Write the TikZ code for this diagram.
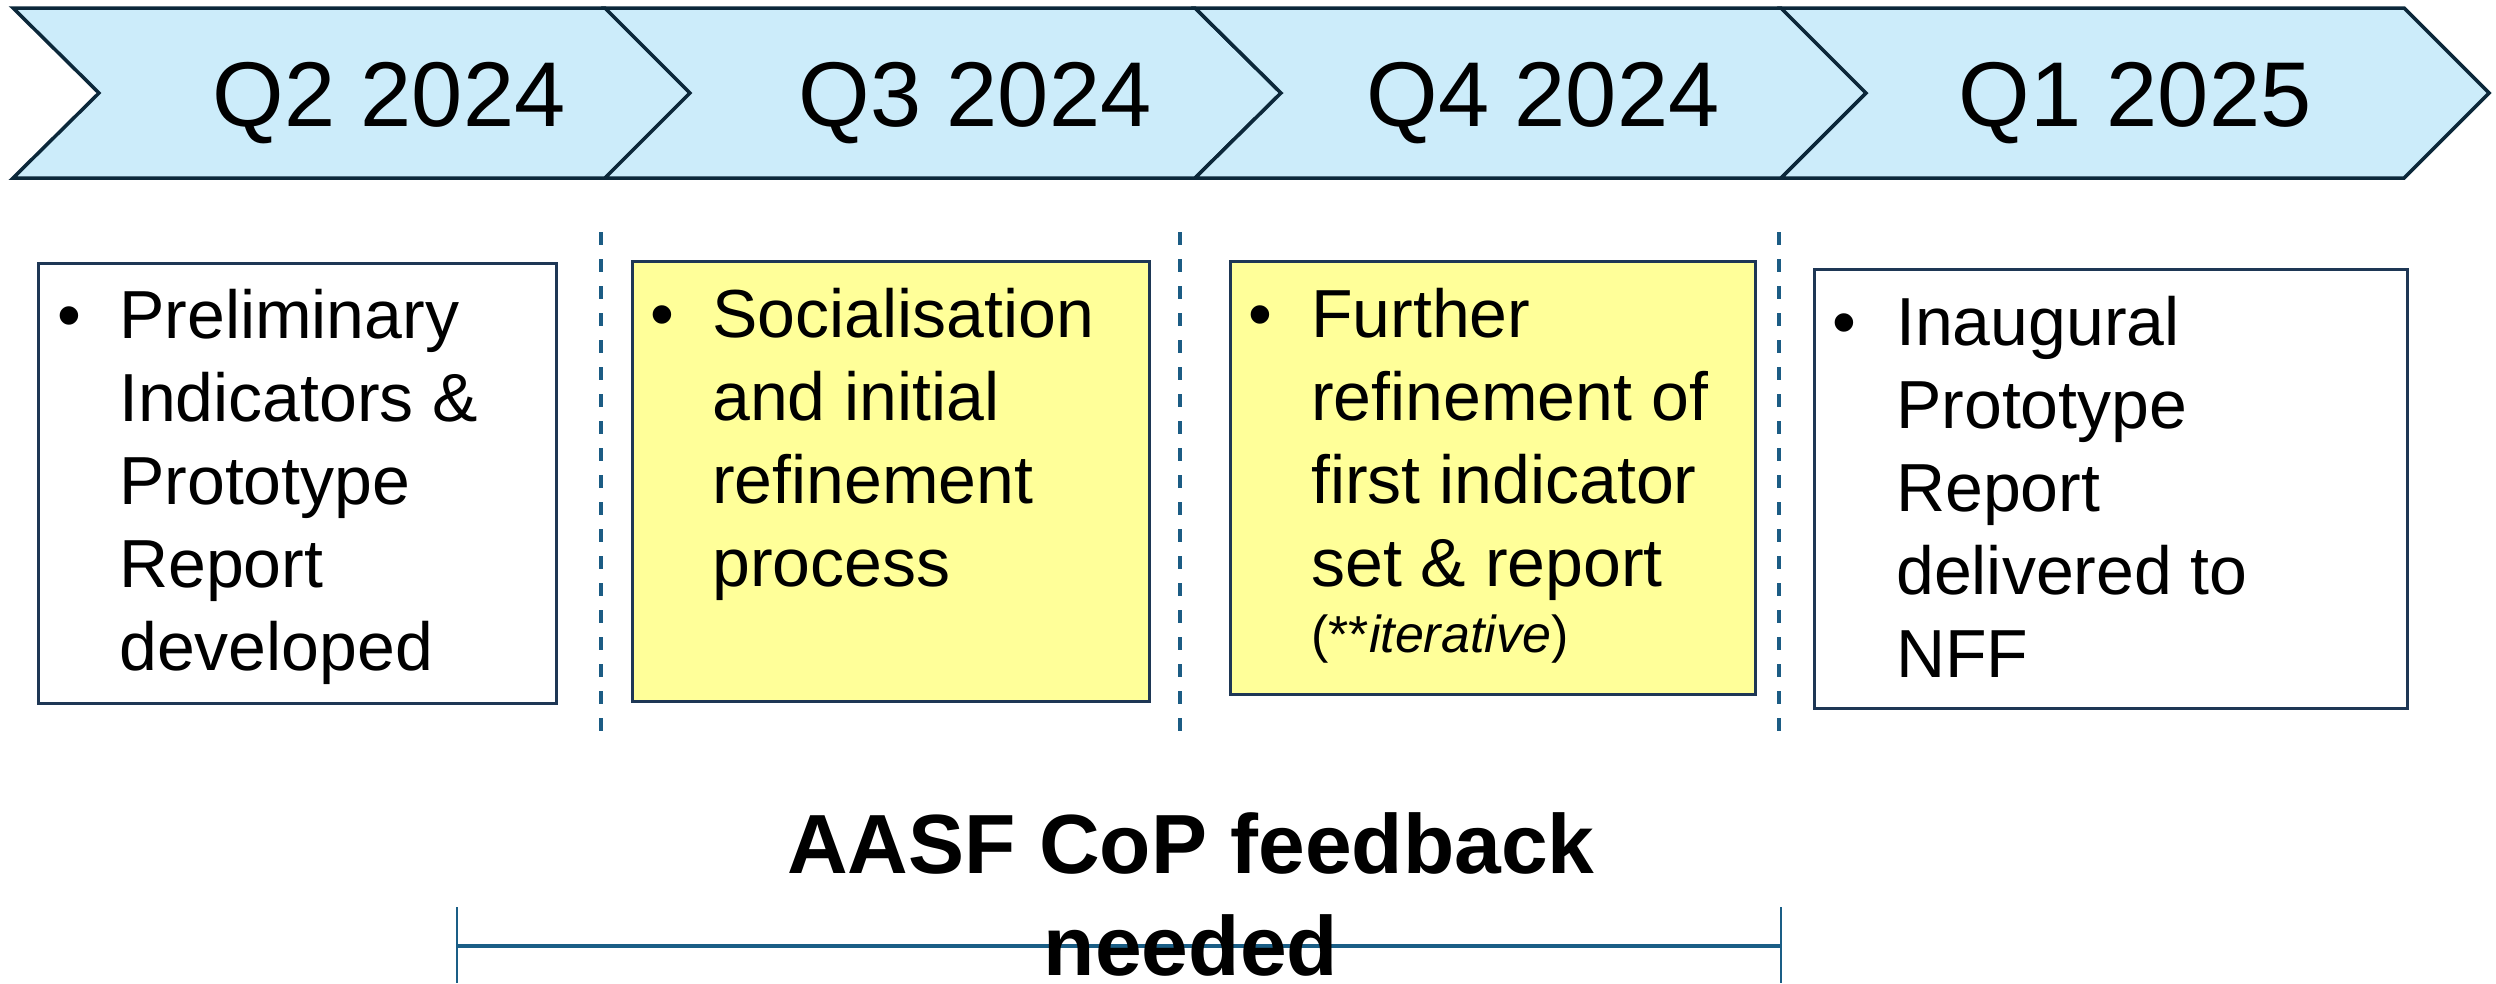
\documentclass[tikz,border=0pt]{standalone}
\usepackage{fontspec}
\setmainfont{Liberation Sans}
\definecolor{chevfill}{RGB}{204,236,250}
\definecolor{chevline}{RGB}{12,40,58}
\definecolor{boxline}{RGB}{30,55,85}
\definecolor{boxyellow}{RGB}{255,255,153}
\definecolor{dashcol}{RGB}{28,92,132}
\definecolor{fbcol}{RGB}{26,94,134}
\begin{document}
\begin{tikzpicture}[x=1pt,y=-1pt,
  chev/.style={fill=chevfill, draw=chevline, line width=3.5pt, line join=miter},
  qlabel/.style={font=\fontsize{92pt}{110pt}\selectfont, anchor=base, inner sep=0pt},
  whitebox/.style={draw=boxline, line width=2.5pt, fill=white, anchor=north west, inner sep=0pt},
  yellowbox/.style={whitebox, fill=boxyellow},
  txt/.style={font=\fontsize{68pt}{83pt}\selectfont, inner sep=0pt, anchor=base west},
  bul/.style={font=\fontsize{68pt}{83pt}\selectfont, inner sep=0pt, anchor=base},
  divider/.style={draw=dashcol, line width=4.8pt, dash pattern=on 13pt off 14pt},
  fbline/.style={draw=fbcol, line width=4pt},
  fbtick/.style={draw=fbcol, line width=2.5pt}
]
\useasboundingbox (0,0) rectangle (2496,983);

% chevrons
\draw[chev] (13,8) -- (605,8) -- (690,93) -- (605,178) -- (13,178) -- (99,93) -- cycle;
\draw[chev] (605,8) -- (1195,8) -- (1281,93) -- (1195,178) -- (605,178) -- (690,93) -- cycle;
\draw[chev] (1195,8) -- (1781,8) -- (1866,93) -- (1781,178) -- (1195,178) -- (1281,93) -- cycle;
\draw[chev] (1781,8) -- (2404,8) -- (2489,93) -- (2404,178) -- (1781,178) -- (1866,93) -- cycle;
\node[qlabel] (q1) at (389,126) {Q2 2024};
\node[qlabel] (q2) at (975,126) {Q3 2024};
\node[qlabel] (q3) at (1543,126) {Q4 2024};
\node[qlabel] (q4) at (2135,126) {Q1 2025};

% dividers
\coordinate (d1t) at (601,232); \coordinate (d1b) at (601,745);
\coordinate (d2t) at (1180,232); \coordinate (d2b) at (1180,745);
\coordinate (d3t) at (1779,232); \coordinate (d3b) at (1779,745);
\draw[divider] (d1t) -- (d1b);
\draw[divider] (d2t) -- (d2b);
\draw[divider] (d3t) -- (d3b);

% boxes
\node[whitebox, minimum width=518pt, minimum height=440pt] (b1) at (37,262) {};
\node[yellowbox, minimum width=517pt, minimum height=440pt] (b2) at (631,260) {};
\node[yellowbox, minimum width=525pt, minimum height=433pt] (b3) at (1229,260) {};
\node[whitebox, minimum width=593pt, minimum height=439pt] (b4) at (1813,268) {};

% box texts
\node[bul] (u1) at (69,338) {\textbullet};
\node[txt] (t1) at (119,338) {\parbox[t]{430pt}{\raggedright Preliminary\\Indicators \&\\Prototype\\Report\\developed}};
\node[bul] (u2) at (662,337) {\textbullet};
\node[txt] (t2) at (712,337) {\parbox[t]{430pt}{\raggedright Socialisation\\and initial\\refinement\\process}};
\node[bul] (u3) at (1260,337) {\textbullet};
\node[txt] (t3) at (1311,337) {\parbox[t]{430pt}{\raggedright Further\\refinement of\\first indicator\\set \& report\\[-17pt]{\fontsize{52pt}{62pt}\selectfont (**\textit{iterative})}}};
\node[bul] (u4) at (1844,345) {\textbullet};
\node[txt] (t4) at (1896,345) {\parbox[t]{480pt}{\raggedright Inaugural\\Prototype\\Report\\delivered to\\NFF}};

% feedback span
\coordinate (fbL) at (457,946); \coordinate (fbR) at (1781,946);
\coordinate (fbLt) at (457,907); \coordinate (fbLb) at (457,983);
\coordinate (fbRt) at (1781,907); \coordinate (fbRb) at (1781,983);
\draw[fbline] (fbL) -- (fbR);
\draw[fbtick] (fbLt) -- (fbLb);
\draw[fbtick] (fbRt) -- (fbRb);
\node[inner sep=0pt, anchor=base, font=\bfseries\fontsize{84pt}{102pt}\selectfont] (fb) at (1191,873)
  {\parbox[t]{1200pt}{\centering AASF CoP feedback\\needed}};
\end{tikzpicture}
\end{document}
